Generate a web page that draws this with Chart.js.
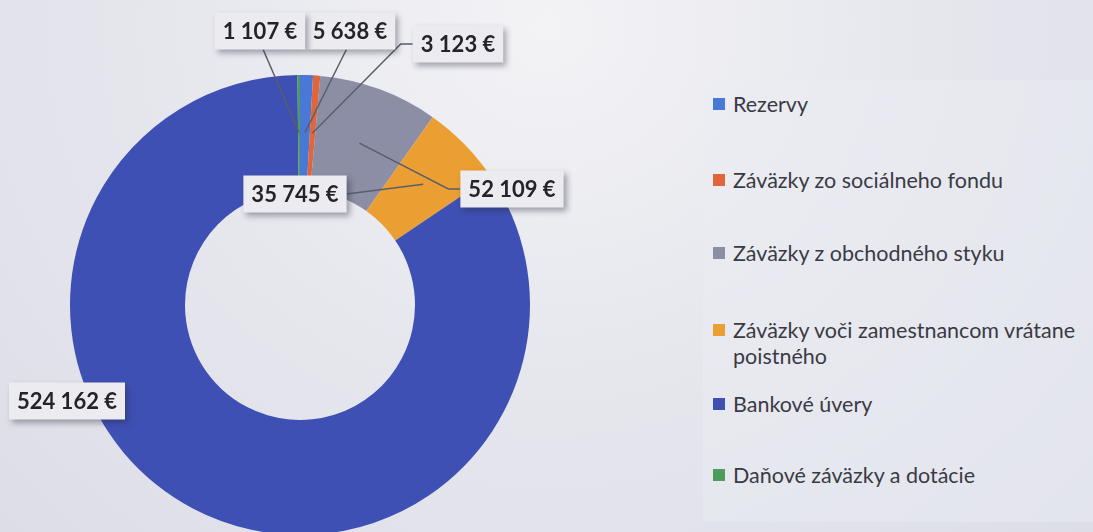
<!DOCTYPE html>
<html>
<head>
<meta charset="utf-8">
<script src="https://cdn.jsdelivr.net/npm/chart.js@4.4.1/dist/chart.umd.min.js"></script>
<style>
  html, body { margin: 0; padding: 0; overflow: hidden; }
  #wrap {
    position: relative; width: 1093px; height: 532px; overflow: hidden;
    background: radial-gradient(ellipse at 50% 5%, #f3f3f6 0%, #e7e8ee 45%, #dcdde7 100%);
  }
  #chart { position: absolute; left: 0; top: 0; }
  #panel {
    position: absolute; left: 703px; top: 80px; width: 400px; height: 442px;
    background: rgba(236, 237, 243, 0.45);
  }
  .item { position: absolute; left: 733px; font-family: Lato, "Open Sans", sans-serif;
    font-size: 21.5px; line-height: 26px; color: #3a3a44; width: 360px; }
  .sq { position: absolute; left: -20px; top: 7px; width: 12px; height: 12px; }
</style>
</head>
<body>
<div id="wrap">
  <div id="panel"></div>
  <canvas id="chart" width="600" height="610"></canvas>
  <div id="legend"></div>
</div>
<script>
// Données
const categories = ['Rezervy', 'Záväzky zo sociálneho fondu', 'Záväzky z obchodného styku',
  'Záväzky voči zamestnancom vrátane poistného', 'Bankové úvery', 'Daňové záväzky a dotácie'];
const values = [5638, 3123, 52109, 35745, 524162, 1107];
const valueLabels = ['5 638 €', '3 123 €', '52 109 €', '35 745 €', '524 162 €', '1 107 €'];

// Couleurs et positions (mise en page)
const colors = ['#4a78d6', '#e0653a', '#8c8ea6', '#eb9f33', '#3f50b4', '#4e9b5e'];
const labelPos = [[350, 31], [458, 44], [512, 189], [295, 194], [67, 401], [260, 31]];
const lineFrom = ['bottom', 'left', 'left', 'right', 'none', 'bottom'];
const legendTop = [91, 167, 240, 317, 391, 462];

// Légende HTML
const legend = document.getElementById('legend');
categories.forEach((c, i) => {
  const d = document.createElement('div');
  d.className = 'item';
  d.style.top = legendTop[i] + 'px';
  d.innerHTML = '<span class="sq" style="background:' + colors[i] + '"></span>' + c;
  legend.appendChild(d);
});

// Étiquettes avec lignes de rappel
const calloutPlugin = {
  id: 'callouts',
  afterDatasetsDraw(chart) {
    const ctx = chart.ctx;
    const arcs = chart.getDatasetMeta(0).data;
    ctx.save();
    ctx.font = 'bold 22px Lato, sans-serif';
    const boxes = arcs.map((arc, i) => {
      const w = ctx.measureText(valueLabels[i]).width + 16;
      const h = 37;
      return { x: labelPos[i][0] - w / 2, y: labelPos[i][1] - h / 2, w, h };
    });
    // lignes
    ctx.strokeStyle = '#5a5e6a';
    ctx.lineWidth = 1.5;
    arcs.forEach((arc, i) => {
      if (lineFrom[i] === 'none') return;
      const p = arc.getProps(['x', 'y', 'startAngle', 'endAngle', 'innerRadius', 'outerRadius']);
      const a = (p.startAngle + p.endAngle) / 2;
      const r = p.innerRadius + 0.5 * (p.outerRadius - p.innerRadius);
      const ax = p.x + Math.cos(a) * r, ay = p.y + Math.sin(a) * r;
      const b = boxes[i];
      ctx.beginPath();
      if (lineFrom[i] === 'bottom') {
        ctx.moveTo(labelPos[i][0] + (ax - labelPos[i][0]) * 0.08, b.y + b.h);
      } else if (lineFrom[i] === 'left') {
        ctx.moveTo(b.x, labelPos[i][1]);
        ctx.lineTo(b.x - 12, labelPos[i][1]);
      } else {
        ctx.moveTo(b.x + b.w, labelPos[i][1]);
      }
      ctx.lineTo(ax, ay);
      ctx.stroke();
    });
    // boîtes
    arcs.forEach((arc, i) => {
      const b = boxes[i];
      ctx.save();
      ctx.shadowColor = 'rgba(40,40,60,0.4)';
      ctx.shadowBlur = 6;
      ctx.shadowOffsetX = 3;
      ctx.shadowOffsetY = 3;
      ctx.fillStyle = '#ebebf0';
      ctx.fillRect(b.x, b.y, b.w, b.h);
      ctx.restore();
      ctx.fillStyle = '#232328';
      ctx.textAlign = 'center';
      ctx.textBaseline = 'middle';
      ctx.fillText(valueLabels[i], labelPos[i][0], labelPos[i][1] + 1);
    });
    ctx.restore();
  }
};

new Chart(document.getElementById('chart'), {
  type: 'doughnut',
  data: {
    labels: categories,
    datasets: [{
      data: values,
      backgroundColor: colors,
      borderWidth: 0
    }]
  },
  options: {
    responsive: false,
    animation: false,
    cutout: '50%',
    layout: { padding: { left: 70, right: 70, top: 75, bottom: 75 } },
    plugins: { legend: { display: false }, tooltip: { enabled: false } }
  },
  plugins: [calloutPlugin]
});
</script>
</body>
</html>
